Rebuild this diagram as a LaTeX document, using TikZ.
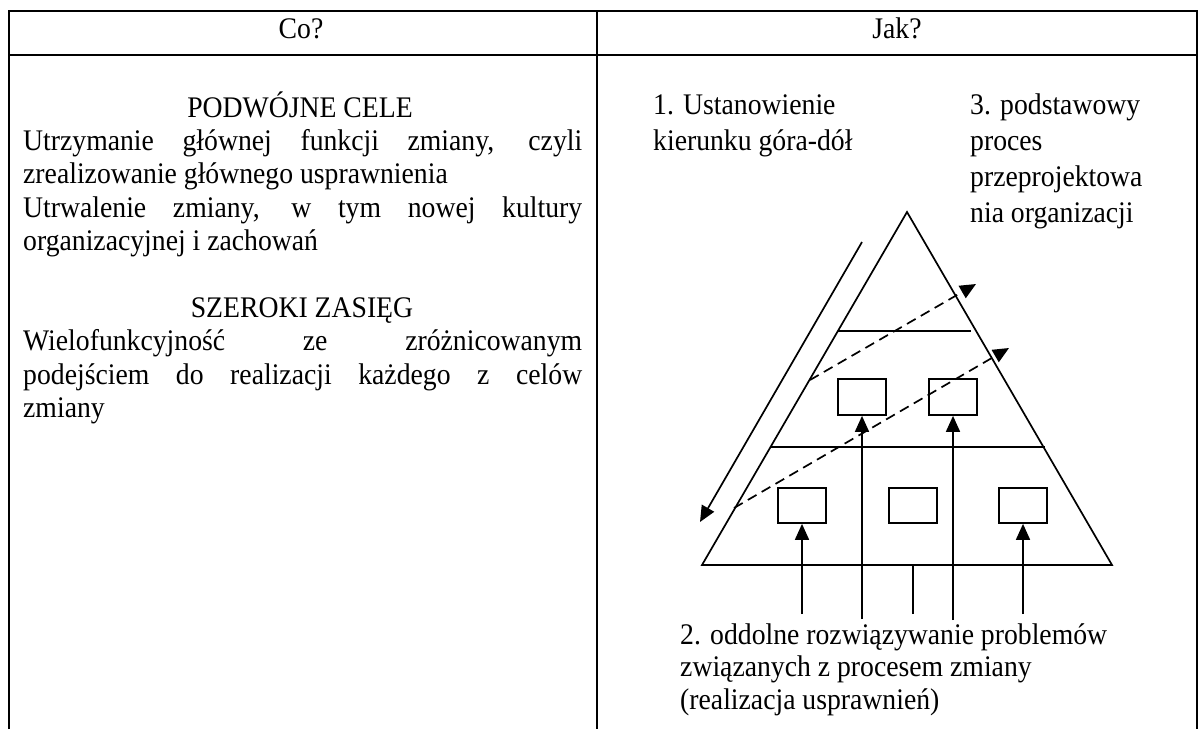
\documentclass[tikz,border=0pt]{standalone}
\usepackage{fontspec}
\usepackage{graphicx}
\setmainfont{Liberation Serif}
\usetikzlibrary{arrows.meta}
\newcommand{\tl}[1]{\scalebox{1}[1.08]{#1}}
\begin{document}
\begin{tikzpicture}[x=1pt,y=-1pt,
  txt/.style={inner sep=0pt,font=\fontsize{27.7}{32}\selectfont},
  lw/.style={txt,anchor=base west},
  ctr/.style={txt,anchor=base},
  frame/.style={line width=2pt},
  tri/.style={line width=1.7pt},
  box/.style={draw,line width=1.7pt,minimum width=48pt,minimum height=36pt,inner sep=0pt},
  arr/.style={line width=1.7pt,-{Triangle[length=16pt,width=14pt]}},
  darr/.style={line width=1.7pt,dash pattern=on 10pt off 6pt,-{Triangle[length=16pt,width=14pt]}}]
\useasboundingbox (0,0) rectangle (1204,729);
% table
\draw[frame] (9,729) -- (9,11) -- (1197,11) -- (1197,729);
\draw[frame] (597,11) -- (597,729);
\draw[frame] (9,54.5) -- (1197,54.5);
\node[ctr] (co) at (301,38) {\tl{Co?}};
\node[ctr] (jak) at (897,38) {\tl{Jak?}};
% left column
\node[ctr] (h1) at (300,117) {\tl{PODWÓJNE CELE}};
\node[lw] (l1) at (23,150.4) {\tl{\makebox[559pt][s]{Utrzymanie głównej funkcji zmiany, czyli}}};
\node[lw] (l2) at (23,183.8) {\tl{zrealizowanie głównego usprawnienia}};
\node[lw] (l3) at (23,217.2) {\tl{\makebox[559pt][s]{Utrwalenie zmiany, w tym nowej kultury}}};
\node[lw] (l4) at (23,250.6) {\tl{organizacyjnej i zachowań}};
\node[ctr] (h2) at (302,317.4) {\tl{SZEROKI ZASIĘG}};
\node[lw] (l5) at (23,350.8) {\tl{\makebox[559pt][s]{Wielofunkcyjność ze zróżnicowanym}}};
\node[lw] (l6) at (23,384.2) {\tl{\makebox[559pt][s]{podejściem do realizacji każdego z celów}}};
\node[lw] (l7) at (23,417.6) {\tl{zmiany}};
% right column texts
\node[lw] (r1a) at (653,114) {\tl{1. Ustanowienie}};
\node[lw] (r1b) at (653,150) {\tl{kierunku góra-dół}};
\node[lw] (r3a) at (970,114) {\tl{3. podstawowy}};
\node[lw] (r3b) at (970,150) {\tl{proces}};
\node[lw] (r3c) at (970,186) {\tl{przeprojektowa}};
\node[lw] (r3d) at (970,222) {\tl{nia organizacji}};
\node[lw] (r2a) at (680,644) {\tl{2. oddolne rozwiązywanie problemów}};
\node[lw] (r2b) at (680,676) {\tl{związanych z procesem zmiany}};
\node[lw] (r2c) at (680,709) {\tl{(realizacja usprawnień)}};
% pyramid
\coordinate (apex) at (907,212);
\coordinate (bl) at (702,565);
\coordinate (br) at (1112,565);
\draw[tri,line join=miter] (bl) -- (apex) -- (br) -- cycle;
\coordinate (u1) at (838,331);
\coordinate (u2) at (971,331);
\coordinate (m1) at (770,447);
\coordinate (m2) at (1045,447);
\draw[tri] (u1) -- (u2);
\draw[tri] (m1) -- (m2);
% boxes
\node[box] (ba) at (862,397) {};
\node[box] (bb) at (953,397) {};
\node[box,minimum height=35pt] (bc) at (802,505.5) {};
\node[box,minimum height=35pt] (bd) at (913,505.5) {};
\node[box,minimum height=35pt] (be) at (1023,505.5) {};
% bottom-up arrows
\coordinate (s1) at (802,614);
\coordinate (s2) at (862,619);
\coordinate (s3) at (913,614);
\coordinate (s3e) at (913,565);
\coordinate (s4) at (953,620);
\coordinate (s5) at (1023,614);
\draw[arr] (s1) -- (bc.south);
\draw[arr] (s2) -- (ba.south);
\draw[tri] (s3) -- (s3e);
\draw[arr] (s4) -- (bb.south);
\draw[arr] (s5) -- (be.south);
% top-down arrow
\coordinate (td1) at (862,242);
\coordinate (td2) at (700,522);
\draw[arr] (td1) -- (td2);
% dashed arrows
\coordinate (d1) at (810,380);
\coordinate (d2) at (976,284);
\coordinate (d3) at (734,508);
\coordinate (d4) at (1009,348);
\draw[darr] (d1) -- (d2);
\draw[darr] (d3) -- (d4);
\end{tikzpicture}
\end{document}
